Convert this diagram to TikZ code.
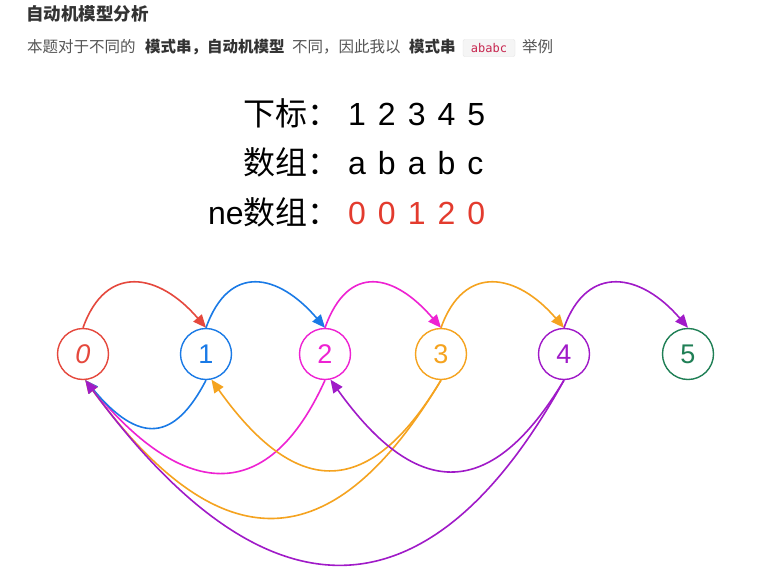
\documentclass[tikz,border=0pt]{standalone}
\usepackage{fontspec}
\setmainfont{Liberation Sans}
\newfontfamily\cjk{Noto Sans CJK SC}
\newfontfamily\codefont{DejaVu Sans Mono}
\usetikzlibrary{arrows.meta}
\definecolor{cred}{HTML}{E5483D}
\definecolor{cblue}{HTML}{1A7AE6}
\definecolor{cpink}{HTML}{EE22D2}
\definecolor{corange}{HTML}{F5A31F}
\definecolor{cpurple}{HTML}{A01AC8}
\definecolor{cgreen}{HTML}{1F7F55}
\definecolor{numred}{HTML}{E33B2E}
\definecolor{codered}{HTML}{C7254E}
\definecolor{bodygray}{HTML}{555555}
\definecolor{darktext}{HTML}{333333}
\tikzset{
  state/.style={circle, minimum size=51pt, line width=1.4pt, inner sep=0pt, font=\fontsize{27}{27}\selectfont},
  arc/.style={line width=1.6pt, -{Triangle[length=13pt,width=11pt]}},
  bodytext/.style={anchor=west, inner sep=0pt, text=bodygray, font=\cjk\fontsize{15.5}{18}\selectfont},
  boldtext/.style={anchor=west, inner sep=0pt, text=darktext, font=\cjk\bfseries\fontsize{15.5}{18}\selectfont},
  biglabel/.style={anchor=base east, inner sep=0pt, font=\fontsize{32}{36}\selectfont},
  bigvalue/.style={anchor=base west, inner sep=0pt, font=\fontsize{32}{36}\selectfont}
}
\newcommand{\spc}{\hspace{12pt}}
\begin{document}
\begin{tikzpicture}[x=1pt,y=-1pt]
\useasboundingbox[fill=white] (0,0) rectangle (761,568);
% header
\node[anchor=west, inner sep=0pt, text=darktext, font=\cjk\bfseries\fontsize{17.5}{20}\selectfont] (title) at (26,14) {自动机模型分析};
\node[bodytext] (t1) at (27,47) {本题对于不同的};
\node[boldtext] (t2) at (145,47) {模式串，};
\node[boldtext] (t3) at (207,47) {自动机模型};
\node[bodytext] (t4) at (292,47) {不同，因此我以};
\node[boldtext] (t5) at (409,47) {模式串};
\node[draw=black!10, fill=black!4, rounded corners=2pt, minimum width=52pt, minimum height=17pt, inner sep=0pt, text=codered, font=\codefont\fontsize{12}{14}\selectfont] (code) at (489,48) {ababc};
\node[bodytext] (t6) at (522,47) {举例};
% table
\node[biglabel] (l1) at (340,125) {\cjk 下标：};
\node[bigvalue] (v1) at (348,125) {1\spc2\spc3\spc4\spc5};
\node[biglabel] (l2) at (340,174) {\cjk 数组：};
\node[bigvalue] (v2) at (348,174) {a\spc b\spc a\spc b\spc c};
\node[biglabel] (l3) at (340,224) {ne{\cjk 数组：}};
\node[bigvalue, text=numred] (v3) at (348,224) {0\spc0\spc1\spc2\spc0};
% states
\node[state, draw=cred, text=cred] (n0) at (83,354) {\itshape 0};
\node[state, draw=cblue, text=cblue] (n1) at (206,354) {1};
\node[state, draw=cpink, text=cpink] (n2) at (325,354) {2};
\node[state, draw=corange, text=corange] (n3) at (441,354) {3};
\node[state, draw=cpurple, text=cpurple] (n4) at (564,354) {4};
\node[state, draw=cgreen, text=cgreen] (n5) at (688,354) {5};
% forward arcs
\draw[arc, cred] (n0.north) .. controls (106,263) and (159,273) .. (n1.north);
\draw[arc, cblue] (n1.north) .. controls (229,263) and (278,273) .. (n2.north);
\draw[arc, cpink] (n2.north) .. controls (348,263) and (394,273) .. (n3.north);
\draw[arc, corange] (n3.north) .. controls (464,263) and (517,273) .. (n4.north);
\draw[arc, cpurple] (n4.north) .. controls (587,263) and (641,273) .. (n5.north);
% failure arcs
\draw[arc, cpink] (n2.south) .. controls (270,502) and (187,504) .. (n0.-85);
\draw[arc, cblue] (n1.south) .. controls (174,442) and (139,444) .. (n0.-85);
\draw[arc, corange] (n3.south) .. controls (370,498) and (298,501) .. (n1.-78);
\draw[arc, corange] (n3.south) .. controls (339,550) and (228,575) .. (n0.-85);
\draw[arc, cpurple] (n4.south) .. controls (492,500) and (418,502) .. (n2.-78);
\draw[arc, cpurple] (n4.south) .. controls (437,610) and (276,640) .. (n0.-85);
\end{tikzpicture}
\end{document}
